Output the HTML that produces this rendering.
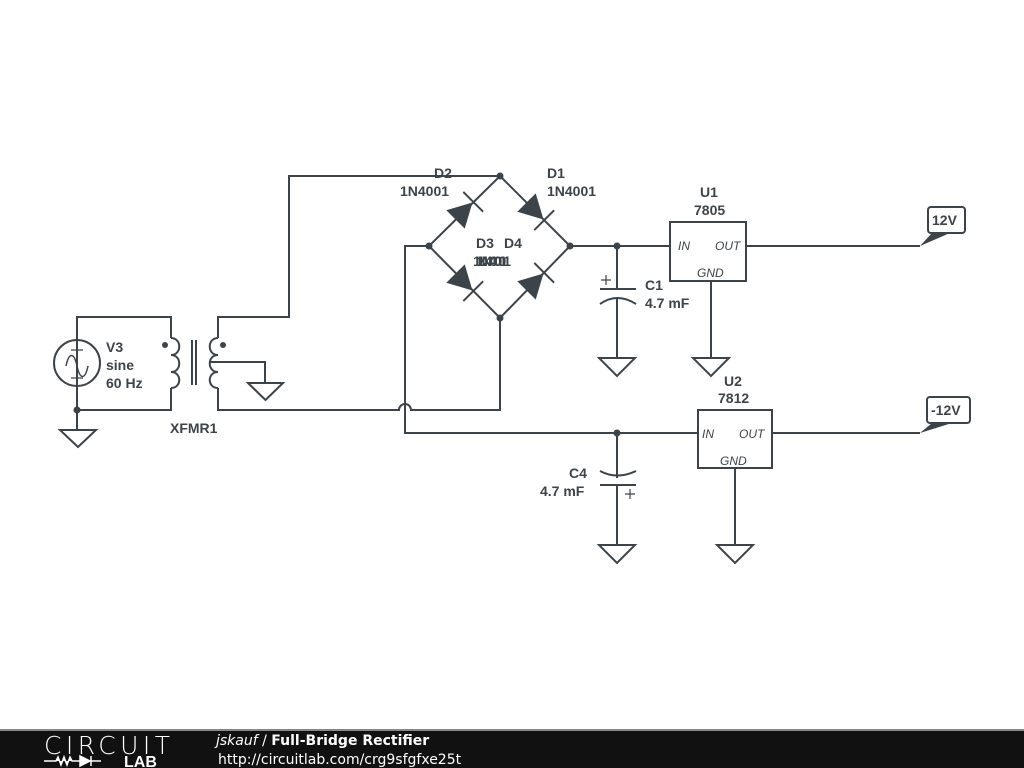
<!DOCTYPE html>
<html><head><meta charset="utf-8"><style>
body{margin:0;width:1024px;height:768px;background:#fff;overflow:hidden;font-family:"Liberation Sans",sans-serif}
</style></head><body>
<svg width="1024" height="768" xmlns="http://www.w3.org/2000/svg" style="position:absolute;left:0;top:0">
<g stroke="#3d4449" stroke-width="2" fill="none" stroke-linejoin="miter">
<path d="M77 340V317H171V338M171 388V410H77V340M77 386V410"/>
<circle cx="77" cy="363" r="23"/>
<path d="M66 366c3-14 8-14 11 0s8 14 11 0" stroke-width="1.5"/>
<path d="M77 410V430"/><path d="M60 430H96L78 447Z"/>
<path d="M171 338c11 0 11 17 0 17c11 0 11 17 0 17c11 0 11 16 0 16"/>
<path d="M192 340V385M196 340V385"/>
<path d="M218 338c-11 0-11 17 0 17c-11 0-11 17 0 17c-11 0-11 16 0 16"/>
<path d="M218 338V317H289V176H500"/>
<path d="M210 362H265V383"/><path d="M248 383H283L265.5 400Z"/>
<path d="M218 388V410H399a6 6 0 0 1 12 0H500V318"/>
<path d="M500 176L570 246L500 318L429 246Z"/>
<path d="M429 246H405V433H698"/>
<path d="M570 246H670"/>
<path d="M617 246V289M600 289H636M600 304Q617 292 636 304M617 298V358"/>
<path d="M599 358H635L617 376Z"/>
<path d="M601 280h10M606 275v10" stroke-width="1.2"/>
<rect x="670" y="222" width="76" height="59"/>
<path d="M711 281V358"/><path d="M693 358H729L711 376Z"/>
<path d="M746 246H920"/>
<path d="M617 433V478M600 471Q617 480 636 471M600 485H636M617 485V545"/>
<path d="M599 545H635L617 563Z"/>
<path d="M625 494h10M630 489v10" stroke-width="1.2"/>
<rect x="698" y="410" width="74" height="58"/>
<path d="M735 468V545"/><path d="M717 545H753L735 563Z"/>
<path d="M772 433H920"/>
<rect x="928" y="207" width="37" height="26" rx="3"/>
<rect x="927" y="397" width="43" height="26" rx="3"/>
</g>
<g fill="#3d4449">
<circle cx="77" cy="410" r="3.5"/>
<circle cx="165" cy="345" r="3"/><circle cx="223" cy="345" r="3"/>
<circle cx="500" cy="176" r="3.5"/><circle cx="429" cy="246" r="3.5"/><circle cx="570" cy="246" r="3.5"/><circle cx="500" cy="318" r="3.5"/>
<circle cx="617" cy="246" r="3.5"/><circle cx="617" cy="433" r="3.5"/>
<path d="M920 246L932 233H950Z"/><path d="M920 433L932 423H952Z"/>
<g transform="translate(464,211) rotate(-45)"><path d="M-12 -13L12 0L-12 13Z"/><path d="M13 -14V14" stroke="#3d4449" stroke-width="2"/></g>
<g transform="translate(535,211) rotate(45)"><path d="M-12 -13L12 0L-12 13Z"/><path d="M13 -14V14" stroke="#3d4449" stroke-width="2"/></g>
<g transform="translate(464,282) rotate(45)"><path d="M-12 -13L12 0L-12 13Z"/><path d="M13 -14V14" stroke="#3d4449" stroke-width="2"/></g>
<g transform="translate(535,282) rotate(-45)"><path d="M-12 -13L12 0L-12 13Z"/><path d="M13 -14V14" stroke="#3d4449" stroke-width="2"/></g>
</g>
<g stroke="#3d4449" stroke-width="1.2" fill="none"><path d="M71 350h12M77 344v12M71 378h12"/></g>
<g font-family="Liberation Sans,sans-serif" font-weight="bold" font-size="14" fill="#3d4449">
<text x="106" y="352">V3</text><text x="106" y="370">sine</text><text x="106" y="388">60 Hz</text>
<text x="170" y="433">XFMR1</text>
<text x="434" y="178">D2</text><text x="400" y="196">1N4001</text>
<text x="547" y="178">D1</text><text x="547" y="196">1N4001</text>
<text x="476" y="248">D3</text><text x="504" y="248">D4</text>
<text x="473" y="266" letter-spacing="-3">1N4001</text><text x="477" y="266" letter-spacing="-3">1N4001</text>
<text x="645" y="290">C1</text><text x="645" y="308">4.7 mF</text>
<text x="569" y="478">C4</text><text x="540" y="496">4.7 mF</text>
<text x="700" y="197">U1</text><text x="694" y="215">7805</text>
<text x="724" y="386">U2</text><text x="718" y="403">7812</text>
<text x="932" y="225">12V</text><text x="931" y="415">-12V</text>
</g>
<g font-family="Liberation Sans,sans-serif" font-style="italic" font-size="12" fill="#3d4449">
<text x="678" y="250">IN</text><text x="715" y="250">OUT</text><text x="697" y="277">GND</text>
<text x="702" y="438">IN</text><text x="739" y="438">OUT</text><text x="720" y="465">GND</text>
</g>
<rect x="0" y="729" width="1024" height="39" fill="#111"/>
<rect x="0" y="729" width="1024" height="2" fill="#888"/>
<text x="44" y="754" font-family="DejaVu Sans,sans-serif" font-size="25" fill="#fff" font-weight="200" textLength="126">CIRCUIT</text>
<path d="M44 761H56l2-4 3 8 3-8 3 8 3-8 2 4h8M80 756v10l10-5zM91 756v10M91 761h10" stroke="#fff" stroke-width="1.5" fill="#fff"/>
<text x="124" y="767" font-family="Liberation Sans,sans-serif" font-size="16" font-weight="bold" fill="#fff">LAB</text>
<text x="216" y="745" font-family="DejaVu Sans,sans-serif" font-size="14" fill="#fff"><tspan font-style="italic">jskauf</tspan> / <tspan font-weight="bold">Full-Bridge Rectifier</tspan></text>
<text x="218" y="764" font-family="DejaVu Sans,sans-serif" font-size="14" fill="#fff">http://circuitlab.com/crg9sfgfxe25t</text>
</svg>
</body></html>
